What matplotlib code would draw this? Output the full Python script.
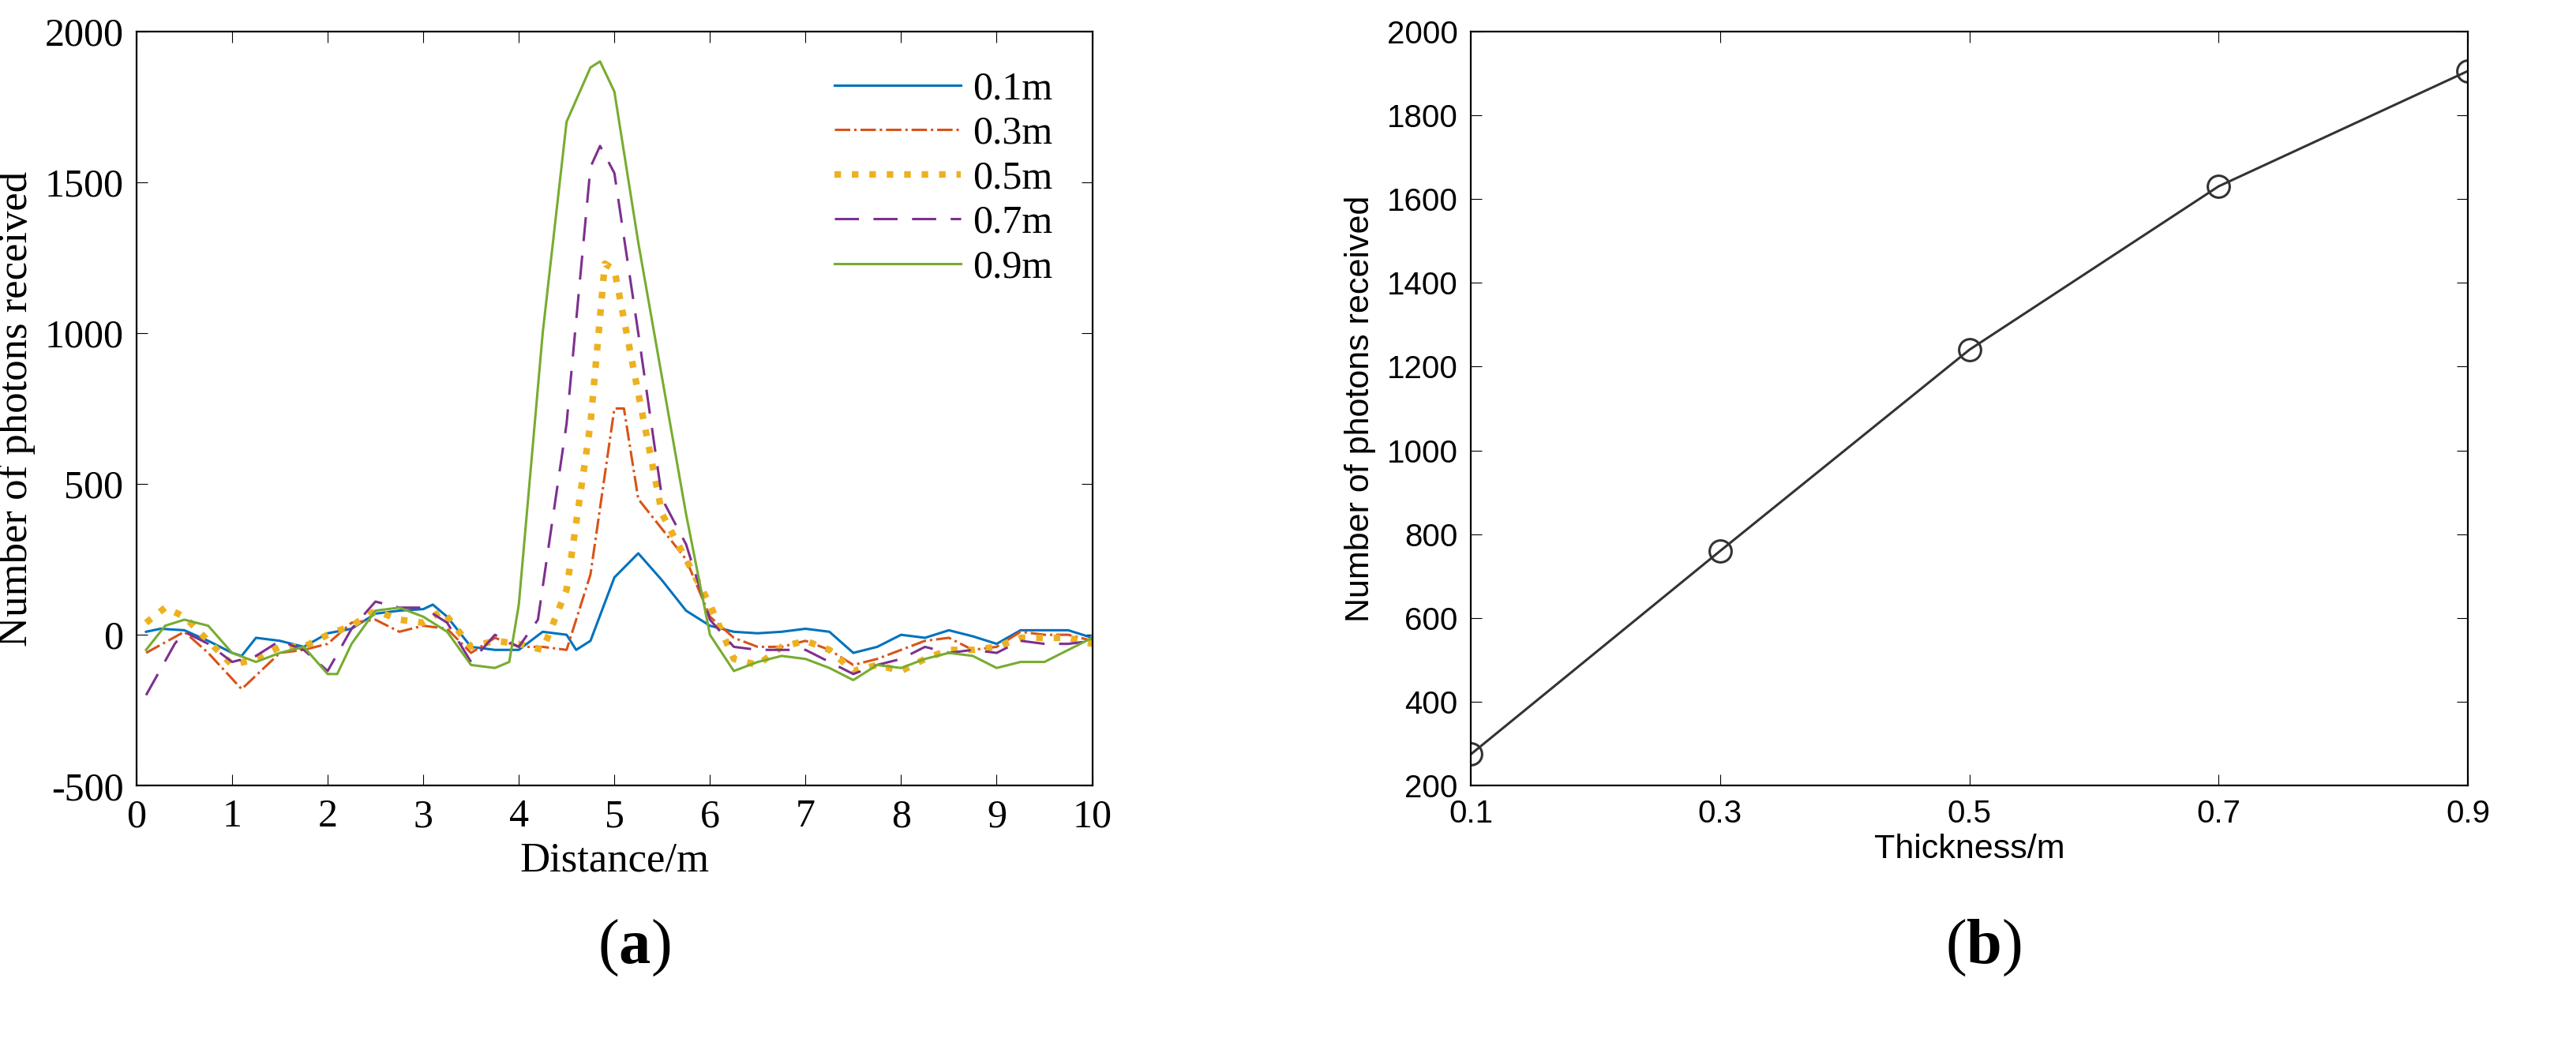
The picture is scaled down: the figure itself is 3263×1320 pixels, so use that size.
import numpy as np
import matplotlib.pyplot as plt

plt.rcParams['axes.unicode_minus'] = False
plt.rcParams['mathtext.fontset'] = 'custom'
plt.rcParams['mathtext.rm'] = 'Liberation Serif'
plt.rcParams['mathtext.bf'] = 'Liberation Serif:bold'

# ---- panel (a) data: distance (m) vs photons, per thickness ----
x_01 = [0.1, 0.25, 0.5, 0.75, 1.0, 1.1, 1.25, 1.5, 1.75, 2.0, 2.25, 2.5, 2.75, 3.0, 3.1, 3.25, 3.5, 3.75, 4.0, 4.25, 4.5, 4.6, 4.75, 5.0, 5.25, 5.5, 5.75, 6.0, 6.25, 6.5, 6.75, 7.0, 7.25, 7.5, 7.75, 8.0, 8.25, 8.5, 8.75, 9.0, 9.25, 9.5, 9.75, 10.0]
y_01 = [10, 20, 15, -20, -60, -70, -10, -20, -40, 5, 20, 70, 80, 85, 100, 60, -40, -50, -50, 10, 0, -50, -20, 190, 270, 180, 80, 30, 10, 5, 10, 20, 10, -60, -40, 0, -10, 15, -5, -30, 15, 15, 15, -10]

x_03 = [0.1, 0.5, 0.75, 1.1, 1.5, 1.75, 2.0, 2.25, 2.5, 2.75, 3.0, 3.25, 3.5, 3.75, 4.0, 4.25, 4.5, 4.75, 5.0, 5.1, 5.25, 5.5, 5.75, 6.0, 6.25, 6.5, 6.75, 7.0, 7.25, 7.5, 7.75, 8.0, 8.25, 8.5, 8.75, 9.0, 9.25, 9.5, 9.75, 10.0]
y_03 = [-60, 10, -60, -180, -60, -50, -30, 40, 50, 10, 30, 20, -60, -10, -40, -40, -50, 200, 750, 750, 450, 350, 250, 60, -10, -40, -40, -20, -50, -100, -80, -50, -20, -10, -50, -40, 10, 0, 0, -20]

x_05 = [0.1, 0.3, 0.5, 0.75, 1.0, 1.25, 1.5, 1.75, 2.0, 2.25, 2.5, 2.75, 3.0, 3.2, 3.5, 3.75, 4.0, 4.25, 4.5, 4.75, 4.9, 5.0, 5.25, 5.5, 5.75, 6.0, 6.25, 6.5, 6.75, 7.0, 7.25, 7.5, 7.75, 8.0, 8.25, 8.5, 8.75, 9.0, 9.25, 9.5, 9.75, 10.0]
y_05 = [40, 90, 60, -20, -100, -80, -40, -40, 0, 30, 80, 50, 40, 80, -40, -20, -30, -50, 150, 700, 1230, 1210, 800, 400, 250, 100, -80, -100, -40, -20, -50, -120, -100, -120, -80, -50, -50, -40, -10, -10, -10, -30]

x_07 = [0.1, 0.4, 0.5, 0.75, 1.0, 1.25, 1.5, 1.75, 2.0, 2.25, 2.5, 2.75, 3.0, 3.25, 3.5, 3.75, 4.0, 4.2, 4.5, 4.75, 4.85, 5.0, 5.25, 5.5, 5.75, 6.0, 6.25, 6.5, 6.75, 7.0, 7.25, 7.5, 7.75, 8.0, 8.25, 8.5, 8.75, 9.0, 9.25, 9.5, 9.75, 10.0]
y_07 = [-200, -30, 10, -30, -90, -70, -20, -50, -120, 20, 110, 90, 90, 40, -90, 0, -40, 50, 700, 1550, 1620, 1530, 1000, 450, 300, 50, -40, -50, -50, -50, -90, -130, -100, -80, -40, -60, -50, -60, -20, -30, -30, -20]

x_09 = [0.1, 0.3, 0.5, 0.75, 1.0, 1.25, 1.5, 1.75, 2.0, 2.1, 2.25, 2.5, 2.75, 3.0, 3.25, 3.5, 3.75, 3.9, 4.0, 4.25, 4.5, 4.75, 4.85, 5.0, 5.25, 5.5, 5.75, 6.0, 6.25, 6.5, 6.75, 7.0, 7.25, 7.5, 7.75, 8.0, 8.25, 8.5, 8.75, 9.0, 9.25, 9.5, 9.75, 10.0]
y_09 = [-50, 30, 50, 30, -60, -90, -60, -40, -130, -130, -30, 80, 90, 60, 10, -100, -110, -90, 100, 1000, 1700, 1880, 1900, 1800, 1300, 850, 400, 0, -120, -90, -70, -80, -110, -150, -100, -110, -80, -60, -70, -110, -90, -90, -50, -10]

# ---- panel (b) data: peak photons vs thickness ----
thickness = [0.1, 0.3, 0.5, 0.7, 0.9]
peak = [275, 760, 1240, 1630, 1905]

fig = plt.figure(figsize=(32.63, 13.2), dpi=100)
serif = ['Liberation Serif', 'DejaVu Serif']
sans = ['Liberation Sans', 'DejaVu Sans']

ax1 = fig.add_axes([0.053, 0.246, 0.371, 0.724])
ax1.plot(x_01, y_01, color='#0072BD', lw=2.2, ls='-', label='0.1m')
ax1.plot(x_03, y_03, color='#D95319', lw=2.2, ls='-.', label='0.3m')
ax1.plot(x_05, y_05, color='#EDB120', lw=6, ls=':', label='0.5m')
ax1.plot(x_07, y_07, color='#7E2F8E', lw=2.2, ls=(0, (10, 6)), label='0.7m')
ax1.plot(x_09, y_09, color='#77AC30', lw=2.2, ls='-', label='0.9m')
ax1.set_xlim(0, 10)
ax1.set_ylim(-500, 2000)
ax1.set_xticks(range(0, 11))
ax1.set_yticks(range(-500, 2001, 500))
ax1.tick_params(direction='in', length=10, labelsize=36, top=True, right=True, pad=12)
for lab in ax1.get_xticklabels() + ax1.get_yticklabels():
    lab.set_fontfamily(serif)
ax1.set_xlabel('Distance/m', fontsize=38, family=serif, labelpad=6)
ax1.set_ylabel('Number of photons received', fontsize=38, family=serif, labelpad=8)
leg = ax1.legend(loc='upper right', frameon=False, prop={'family': serif, 'size': 36},
                 handlelength=3.2, labelspacing=0.2, borderaxespad=0.6, handletextpad=0.3)

ax2 = fig.add_axes([0.571, 0.246, 0.387, 0.724])
ax2.plot(thickness, peak, color='#333333', lw=2.2, marker='o', ms=20, mfc='none', mec='#333333', mew=2.2)
ax2.set_xlim(0.1, 0.9)
ax2.set_ylim(200, 2000)
ax2.set_xticks(thickness)
ax2.set_xticklabels(['0.1', '0.3', '0.5', '0.7', '0.9'])
ax2.set_yticks(range(200, 2001, 200))
ax2.tick_params(direction='in', length=10, labelsize=29, top=True, right=True, pad=12)
for lab in ax2.get_xticklabels() + ax2.get_yticklabels():
    lab.set_fontfamily(sans)
ax2.set_xlabel('Thickness/m', fontsize=31, family=sans)
ax2.set_ylabel('Number of photons received', fontsize=31, family=sans, labelpad=10)

for ax in (ax1, ax2):
    for s in ax.spines.values():
        s.set_linewidth(1.6)

fig.text(0.246, 0.09, r'($\mathbf{a}$)', fontsize=58, family=serif, ha='center', va='center')
fig.text(0.77, 0.09, r'($\mathbf{b}$)', fontsize=58, family=serif, ha='center', va='center')

fig.savefig('out.png', dpi=100, facecolor='white')
